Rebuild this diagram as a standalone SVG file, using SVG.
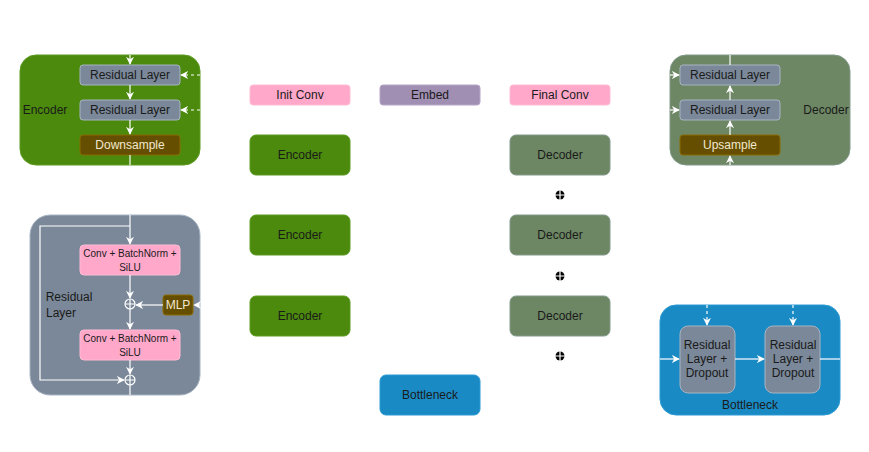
<svg xmlns="http://www.w3.org/2000/svg" width="869" height="452" viewBox="0 0 869 452">
<defs>
<style>
text{font-family:"Liberation Sans",Arial,sans-serif;font-size:12px;fill:#1a1a1a;text-anchor:middle;dominant-baseline:central}
.lt{fill:#f0e8d0}
.l{stroke:#ffffff;stroke-width:1.2;fill:none}
.d{stroke:#ffffff;stroke-width:1.2;fill:none;stroke-dasharray:3 3}
.a{marker-end:url(#ah)}
.enc{fill:#4b8a0c;stroke:#5c9a22}
.dec{fill:#6d8764;stroke:#82998a}
.rl{fill:#7a8899;stroke:#a8b4c2}
.brn{fill:#664e00;stroke:#8a6b00}
.pink{fill:#ffa8ca;stroke:#ffbcd4}
.blue{fill:#1a8ac5;stroke:#2a9ad4}
</style>
<marker id="ah" viewBox="0 0 10 10" refX="9" refY="5" markerWidth="8" markerHeight="8" markerUnits="userSpaceOnUse" orient="auto">
<path d="M0,0 L10,5 L0,10 L3,5 Z" fill="#ffffff"/>
</marker>
</defs>

<g id="encoder-detail">
<rect x="20" y="55" width="180" height="110" rx="16" class="enc"/>
<text x="45" y="110">Encoder</text>
<rect x="80" y="65" width="100" height="20" rx="3" class="rl"/>
<text x="130" y="75">Residual Layer</text>
<rect x="80" y="100" width="100" height="20" rx="3" class="rl"/>
<text x="130" y="110">Residual Layer</text>
<rect x="80" y="135" width="100" height="20" rx="3" class="brn"/>
<text x="130" y="145" class="lt">Downsample</text>
</g>

<g id="residual-detail">
<rect x="30" y="215" width="170" height="180" rx="20" fill="#7a8899" stroke="#a8b4c2"/>
<text x="69" y="297">Residual</text>
<text x="61" y="313">Layer</text>
<rect x="80" y="245" width="100" height="30" rx="4" class="pink"/>
<text x="130" y="253" style="font-size:10px">Conv + BatchNorm +</text>
<text x="130" y="267" style="font-size:10px">SiLU</text>
<rect x="80" y="330" width="100" height="30" rx="4" class="pink"/>
<text x="130" y="338" style="font-size:10px">Conv + BatchNorm +</text>
<text x="130" y="352" style="font-size:10px">SiLU</text>
<rect x="163" y="295" width="30" height="20" rx="3" class="brn"/>
<text x="178" y="305" class="lt">MLP</text>
<circle cx="130" cy="304" r="5" class="l"/>
<path d="M125,304 H135 M130,299 V309" class="l"/>
<circle cx="130" cy="380" r="5" class="l"/>
<path d="M125,380 H135 M130,375 V385" class="l"/>
</g>

<g id="decoder-detail">
<rect x="670" y="55" width="180" height="110" rx="16" class="dec"/>
<text x="826" y="110">Decoder</text>
<rect x="680" y="65" width="100" height="20" rx="3" class="rl"/>
<text x="730" y="75">Residual Layer</text>
<rect x="680" y="100" width="100" height="20" rx="3" class="rl"/>
<text x="730" y="110">Residual Layer</text>
<rect x="680" y="135" width="100" height="20" rx="3" class="brn"/>
<text x="730" y="145" class="lt">Upsample</text>
</g>

<g id="bottleneck-detail">
<rect x="660" y="305" width="180" height="110" rx="16" class="blue"/>
<text x="750" y="405">Bottleneck</text>
<rect x="680" y="326" width="55" height="67" rx="8" class="rl"/>
<text x="707" y="345">Residual</text>
<text x="707" y="359">Layer +</text>
<text x="707" y="373">Dropout</text>
<rect x="765" y="326" width="55" height="67" rx="8" class="rl"/>
<text x="793" y="345">Residual</text>
<text x="793" y="359">Layer +</text>
<text x="793" y="373">Dropout</text>
</g>

<g id="init-conv"><rect x="250" y="85" width="100" height="20" rx="3" class="pink"/><text x="300" y="95">Init Conv</text></g>
<g id="embed"><rect x="380" y="85" width="100" height="20" rx="3" fill="#a18fb3" stroke="#b6a6c6"/><text x="430" y="95">Embed</text></g>
<g id="final-conv"><rect x="510" y="85" width="100" height="20" rx="3" class="pink"/><text x="560" y="95">Final Conv</text></g>

<g id="encoder-1"><rect x="250" y="135" width="100" height="40" rx="6" class="enc"/><text x="300" y="155">Encoder</text></g>
<g id="encoder-2"><rect x="250" y="215" width="100" height="40" rx="6" class="enc"/><text x="300" y="235">Encoder</text></g>
<g id="encoder-3"><rect x="250" y="296" width="100" height="40" rx="6" class="enc"/><text x="300" y="316">Encoder</text></g>
<g id="decoder-1"><rect x="510" y="135" width="100" height="40" rx="6" class="dec"/><text x="560" y="155">Decoder</text></g>
<g id="decoder-2"><rect x="510" y="215" width="100" height="40" rx="6" class="dec"/><text x="560" y="235">Decoder</text></g>
<g id="decoder-3"><rect x="510" y="296" width="100" height="40" rx="6" class="dec"/><text x="560" y="316">Decoder</text></g>
<g id="bottleneck"><rect x="380" y="375" width="100" height="40" rx="6" class="blue"/><text x="430" y="395">Bottleneck</text></g>

<g id="concat-1"><circle cx="560" cy="195" r="4.5" fill="#000"/><path d="M555,195 H565 M560,190 V200" stroke="#fff" stroke-width="1.2"/></g>
<g id="concat-2"><circle cx="560" cy="276" r="4.5" fill="#000"/><path d="M555,276 H565 M560,271 V281" stroke="#fff" stroke-width="1.2"/></g>
<g id="concat-3"><circle cx="560" cy="356" r="4.5" fill="#000"/><path d="M555,356 H565 M560,351 V361" stroke="#fff" stroke-width="1.2"/></g>

<g id="connectors">
<!-- encoder detail -->
<path d="M130,55 V64" class="l a"/>
<path d="M130,85 V99" class="l a"/>
<path d="M130,120 V134" class="l a"/>
<path d="M130,155 V165" class="l"/>
<path d="M200,75 H181" class="d a"/>
<path d="M200,110 H181" class="d a"/>
<!-- residual detail -->
<path d="M130,215 V244" class="l a"/>
<path d="M130,226 H40 V380 H124" class="l a"/>
<path d="M130,275 V298" class="l a"/>
<path d="M130,309 V329" class="l a"/>
<path d="M130,360 V374" class="l a"/>
<path d="M130,385 V395" class="l"/>
<path d="M163,305 H136" class="l a"/>
<path d="M200,305 H194" class="d a"/>
<!-- decoder detail -->
<path d="M730,55 V65" class="l"/>
<path d="M730,100 V86" class="l a"/>
<path d="M730,135 V121" class="l a"/>
<path d="M730,165 V156" class="l a"/>
<path d="M670,75 H679" class="l a"/>
<path d="M670,110 H679" class="l a"/>
<!-- bottleneck detail -->
<path d="M707,305 V325" class="d a"/>
<path d="M793,305 V325" class="d a"/>
<path d="M660,359 H679" class="l a"/>
<path d="M735,359 H764" class="l a"/>
<path d="M820,359 H840" class="l"/>
</g>
</svg>
